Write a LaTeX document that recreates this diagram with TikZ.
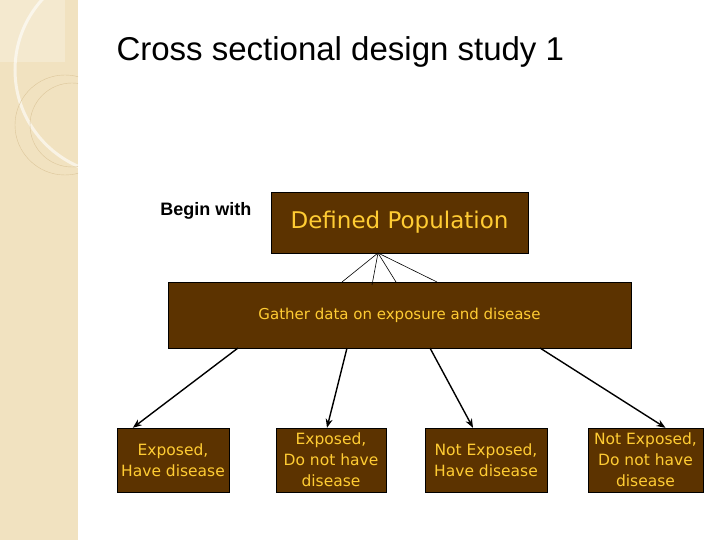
\documentclass[tikz,border=0pt]{standalone}
\usepackage{fontspec}
\setmainfont{Liberation Sans}
\newfontfamily\boxfont{DejaVu Sans}
\definecolor{boxbrown}{HTML}{5C3300}
\definecolor{boxgold}{HTML}{FFCC33}
\definecolor{stripbeige}{HTML}{F1E2C0}
\definecolor{ringtan}{HTML}{DCC69A}
\usetikzlibrary{arrows.meta}
\tikzset{
  brownbox/.style={draw=black,fill=boxbrown,text=boxgold,font=\boxfont,align=center,inner sep=0pt},
  arrow/.style={-{Stealth[length=9pt,width=7pt]},line width=1.4pt},
  thin line/.style={line width=0.6pt}
}
\begin{document}
\begin{tikzpicture}[x=1pt,y=-1pt]
\useasboundingbox (0,0) rectangle (720,540);
% left strip
\fill[stripbeige] (0,0) rectangle (78,540);
\begin{scope}
  \clip (0,0) rectangle (78,540);
  \draw[white,opacity=0.6,line width=3pt] (120,70) circle (105);
  \draw[ringtan,line width=0.4pt] (65,125) circle (50);
  \draw[ringtan,line width=0.4pt] (72,125) circle (42);
  \fill[white,opacity=0.25] (0,0) rectangle (65,62);
\end{scope}

\node[font=\fontsize{33}{38}\selectfont,anchor=west] (title) at (113,52) {Cross sectional design study 1};
\node[font=\bfseries\fontsize{18}{20}\selectfont,anchor=east] (begin) at (255,211) {Begin with};

\node[brownbox,minimum width=257,minimum height=61,font=\boxfont\fontsize{23}{26}\selectfont] (pop) at (399.5,222.5) {Defined Population};
\node[brownbox,minimum width=463,minimum height=66,font=\boxfont\fontsize{15}{18}\selectfont] (gather) at (399.5,315) {Gather data on exposure and disease};

\begin{scope}[every node/.style={brownbox,minimum height=64,font=\boxfont\fontsize{15.5}{21}\selectfont}]
  \node[minimum width=112] (eh) at (173,460) {Exposed,\\Have disease};
  \node[minimum width=110] (en) at (331,460) {Exposed,\\Do not have\\disease};
  \node[minimum width=122] (nh) at (486,460) {Not Exposed,\\Have disease};
  \node[minimum width=115] (nn) at (645.5,460) {Not Exposed,\\Do not have\\disease};
\end{scope}

% fan of thin lines
\coordinate (fan) at (378,253);
\coordinate (f1) at (342,282);
\coordinate (f2) at (372,285);
\coordinate (f3) at (396,282);
\coordinate (f4) at (437,282);
\foreach \f in {f1,f2,f3,f4}
  \draw[thin line] (fan) -- (\f);

\coordinate (g1) at (238,348);
\coordinate (g2) at (347,348);
\coordinate (g3) at (430,348);
\coordinate (g4) at (540,348);
\draw[arrow] (g1) -- ([xshift=16pt]eh.north west);
\draw[arrow] (g2) -- ([xshift=-4pt]en.north);
\draw[arrow] (g3) -- ([xshift=-13pt]nh.north);
\draw[arrow] (g4) -- ([xshift=20pt]nn.north);
\end{tikzpicture}
\end{document}
